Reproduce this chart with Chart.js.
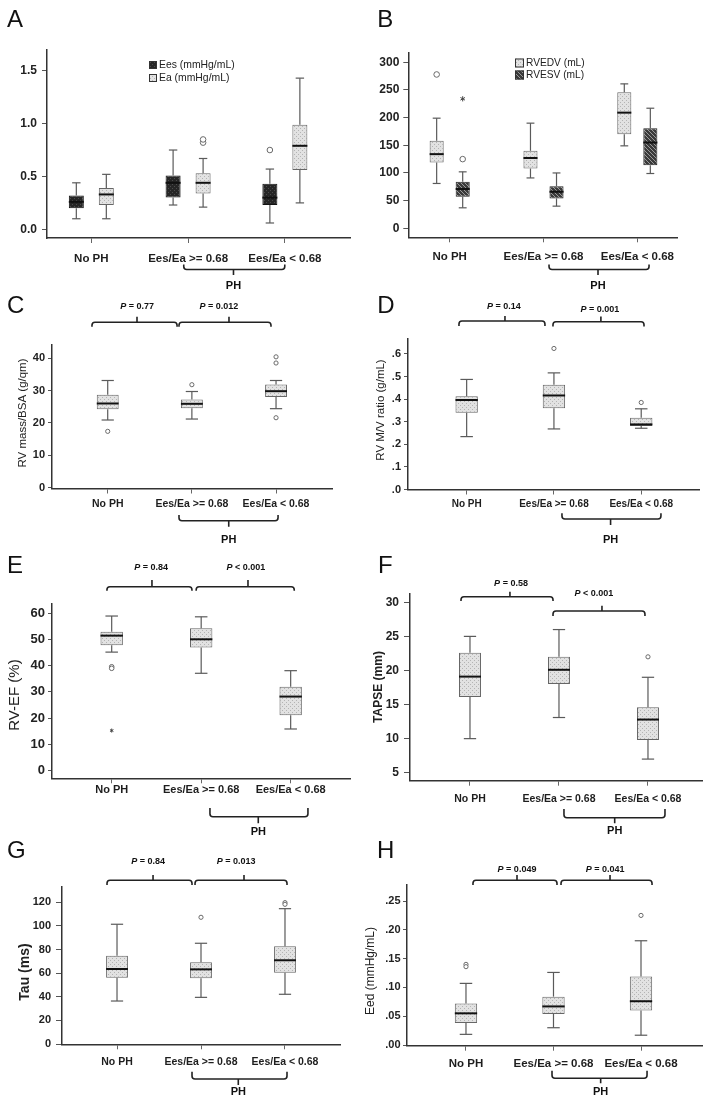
<!DOCTYPE html>
<html>
<head>
<meta charset="utf-8">
<title>RV-PA coupling box plots</title>
<script src="https://cdn.jsdelivr.net/npm/chart.js@4.4.1/dist/chart.umd.min.js"></script>
<style>
  html, body { margin: 0; padding: 0; background: #fff; }
  #page { position: relative; width: 709px; height: 1106px; overflow: hidden; }
  #page canvas { position: absolute; }
</style>
</head>
<body>
<div id="page"></div>
<script>
// ---------- data ----------
const groups = ['No PH', 'Ees/Ea >= 0.68', 'Ees/Ea < 0.68'];

// each box: [whisker low, Q1, median, Q3, whisker high], one per group
const eesBox = [[0.10, 0.20, 0.26, 0.32, 0.44], [0.23, 0.30, 0.44, 0.51, 0.75], [0.06, 0.23, 0.30, 0.43, 0.57]];
const eesOut = [[], [], [0.75]];
const eaBox = [[0.10, 0.23, 0.33, 0.39, 0.52], [0.21, 0.34, 0.44, 0.53, 0.67], [0.25, 0.56, 0.79, 0.99, 1.43]];
const eaOut = [[], [0.82, 0.85], []];

const rvedvBox = [[81, 119, 134, 158, 199], [91, 108, 127, 140, 190], [149, 170, 209, 246, 261]];
const rvedvOut = [[278], [], []];
const rvesvBox = [[37, 57, 71, 84, 102], [40, 54, 66, 76, 100], [99, 114, 155, 181, 217]];
const rvesvOut = [[125], [], []];
const rvesvExtreme = [[234], [], []];

const rvMassBox = [[20.9, 24.2, 26.0, 28.7, 33.1], [21.2, 24.5, 25.9, 27.2, 29.7], [24.4, 28.0, 29.8, 31.9, 33.1]];
const rvMassOut = [[17.4], [31.8], [40.4, 38.5, 21.6]];

const mvRatioBox = [[0.234, 0.340, 0.396, 0.413, 0.487], [0.268, 0.360, 0.416, 0.463, 0.516], [0.271, 0.281, 0.288, 0.318, 0.357]];
const mvRatioOut = [[], [0.624], [0.385]];

const rvefBox = [[45.2, 47.8, 51.5, 53.0, 59.0], [37.1, 47.0, 50.1, 54.3, 58.7], [15.8, 21.1, 28.2, 32.0, 38.1]];
const rvefOut = [[39.6, 39.0], [], []];
const rvefExtreme = [[15.2], [], []];

const tapseBox = [[10.0, 16.1, 19.1, 22.6, 25.0], [13.1, 18.0, 20.1, 22.0, 26.0], [7.0, 9.8, 12.8, 14.6, 19.0]];
const tapseOut = [[], [], [22.0]];

const tauBox = [[36.4, 56.2, 63.5, 74.8, 101.4], [39.5, 55.6, 63.2, 69.2, 85.3], [42.1, 60.4, 70.9, 82.7, 114.6]];
const tauOut = [[], [107.3], [119.7, 118.3]];

const eedBox = [[0.0185, 0.038, 0.055, 0.072, 0.107], [0.030, 0.054, 0.067, 0.084, 0.126], [0.017, 0.060, 0.076, 0.119, 0.181]];
const eedOut = [[0.140, 0.136], [], [0.225]];

// axis ticks
const aTicks = [0, 0.5, 1.0, 1.5];
const aTickLabels = ['0.0', '0.5', '1.0', '1.5'];
const bTicks = [0, 50, 100, 150, 200, 250, 300];
const cTicks = [0, 10, 20, 30, 40];
const dTicks = [0, 0.1, 0.2, 0.3, 0.4, 0.5, 0.6];
const dTickLabels = ['.0', '.1', '.2', '.3', '.4', '.5', '.6'];
const eTicks = [0, 10, 20, 30, 40, 50, 60];
const fTicks = [5, 10, 15, 20, 25, 30];
const gTicks = [0, 20, 40, 60, 80, 100, 120];
const hTicks = [0, 0.05, 0.10, 0.15, 0.20, 0.25];
const hTickLabels = ['.00', '.05', '.10', '.15', '.20', '.25'];

// ---------- styling helpers ----------
const FONT = '"Liberation Sans", Arial, Helvetica, sans-serif';
Chart.defaults.font.family = FONT;

function tile(base, dot, kind) {
    const c = document.createElement('canvas');
    c.width = 4; c.height = 4;
    const g = c.getContext('2d');
    g.fillStyle = base; g.fillRect(0, 0, 4, 4);
    g.fillStyle = dot;
    if (kind === 'hatch') {
        for (let i = 0; i < 4; i++) g.fillRect(i, i, 1, 1);
    } else {
        g.fillRect(0, 0, 1, 1); g.fillRect(2, 2, 1, 1);
    }
    return g.createPattern(c, 'repeat');
}

const fills = {
    light: tile('#e2e2e2', '#b4b4b4'),
    dark: tile('#262626', '#4c4c4c'),
    hatch: tile('#3a3a3a', '#9a9a9a', 'hatch')
};

const phBracket = (x1, x2, tick, y, yEnd, yTick, yText) => ({ x1, x2, tick, y, yEnd, yTick, yText });
const pBracket = (x1, x2, tick, tx, y, yEnd, yTick, yText, text) => ({ x1, x2, tick, tx, y, yEnd, yTick, yText, text });

// ---------- panel layout (page coordinates) ----------
const panels = [
    {
        letter: 'A', letterPos: [7, 26.7], cx: 0, cy: 0, cw: 354, ch: 300,
        area: { l: 47, t: 50, r: 350, b: 238 }, xRange: [-0.458, 2.673], yRange: [-0.082, 1.696],
        yTicks: aTicks, yTickLabels: aTickLabels, yFont: 12, tl: 5, yPad: 5, xFont: 11.5, xLabelY: 257,
        series: [
            { label: 'Ees (mmHg/mL)', box: eesBox, out: eesOut, fill: 'dark', border: '#111' },
            { label: 'Ea (mmHg/mL)', box: eaBox, out: eaOut, fill: 'light', border: '#666' }
        ],
        catPct: 0.62, barPct: 0.5, dot: 2.8,
        legend: { x: 149, y: 61, size: 8, gap: 13, font: 10.4 },
        ph: phBracket(0.955, 1.999, 1.469, 269.5, 264.5, 275, 286),
        pvals: []
    },
    {
        letter: 'B', letterPos: [377.3, 26.7], cx: 354, cy: 0, cw: 355, ch: 300,
        area: { l: 408.3, t: 53, r: 677, b: 237.3 }, xRange: [-0.441, 2.423], yRange: [-16.3, 316.8],
        yTicks: bTicks, yFont: 12, tl: 5, yPad: 4, xFont: 11.5, xLabelY: 255,
        series: [
            { label: 'RVEDV (mL)', box: rvedvBox, out: rvedvOut, fill: 'light', border: '#666' },
            { label: 'RVESV (mL)', box: rvesvBox, out: rvesvOut, star: rvesvExtreme, fill: 'hatch', border: '#222' }
        ],
        catPct: 0.555, barPct: 0.54, dot: 2.8, starSize: 2.6,
        legend: { x: 515, y: 58.5, size: 9, gap: 12, font: 10.2 },
        ph: phBracket(1.059, 2.125, 1.581, 269.5, 264.5, 275, 286),
        pvals: []
    },
    {
        letter: 'C', letterPos: [7, 313.3], cx: 0, cy: 295, cw: 354, ch: 260,
        area: { l: 52, t: 345, r: 332, b: 488.5 }, xRange: [-0.662, 2.665], yRange: [-0.25, 44.06],
        yTicks: cTicks, yFont: 11, tl: 4, yPad: 3, xFont: 10.5, xLabelY: 503,
        series: [{ label: 'RV mass/BSA', box: rvMassBox, out: rvMassOut, fill: 'light', border: '#666' }],
        catPct: 1, barPct: 0.26, dot: 2.1,
        yTitle: { text: 'RV mass/BSA (g/qm)', x: 23, y: 413, font: `11.5px ${FONT}` },
        ph: phBracket(0.847, 2.024, 1.438, 520.7, 515, 526.7, 540),
        pvals: [
            pBracket(-0.187, 0.824, 0.348, 0.35, 322.3, 326.8, 316.7, 306.7, '= 0.77'),
            pBracket(0.847, 1.94, 1.441, 1.32, 322.3, 326.8, 316.7, 306.7, '= 0.012')
        ]
    },
    {
        letter: 'D', letterPos: [377.3, 313.3], cx: 354, cy: 295, cw: 355, ch: 260,
        area: { l: 408, t: 338.3, r: 699, b: 489.5 }, xRange: [-0.672, 2.662], yRange: [0, 0.669],
        yTicks: dTicks, yTickLabels: dTickLabels, yFont: 11, tl: 4, yPad: 3, xFont: 10, xLabelY: 503,
        series: [{ label: 'RV M/V ratio', box: mvRatioBox, out: mvRatioOut, fill: 'light', border: '#666' }],
        catPct: 1, barPct: 0.256, dot: 2.1,
        yTitle: { text: 'RV M/V ratio (g/mL)', x: 380.7, y: 410, font: `11.5px ${FONT}` },
        ph: phBracket(1.092, 2.226, 1.649, 519, 513.3, 525, 540),
        pvals: [
            pBracket(-0.088, 0.897, 0.439, 0.427, 321, 326, 316, 306.7, '= 0.14'),
            pBracket(0.989, 2.032, 1.538, 1.527, 321.7, 326.5, 316.5, 309.3, '= 0.001')
        ]
    },
    {
        letter: 'E', letterPos: [7, 573.3], cx: 0, cy: 552, cw: 354, ch: 295,
        area: { l: 52, t: 604, r: 350, b: 778.3 }, xRange: [-0.667, 2.663], yRange: [-3.06, 63.6],
        yTicks: eTicks, yFont: 13, tl: 4, yPad: 3, xFont: 11, xLabelY: 788,
        series: [{ label: 'RV-EF', box: rvefBox, out: rvefOut, star: rvefExtreme, fill: 'light', border: '#666' }],
        catPct: 1, barPct: 0.25, dot: 2.3, starSize: 2,
        yTitle: { text: 'RV-EF (%)', x: 15, y: 695, font: `15px ${FONT}` },
        ph: phBracket(1.098, 2.193, 1.638, 816.7, 808, 823.3, 832),
        pvals: [
            pBracket(-0.053, 0.897, 0.45, 0.44, 586.7, 590.7, 580, 567.3, '= 0.84'),
            pBracket(0.944, 2.04, 1.523, 1.50, 586.7, 590.7, 580, 567.3, '< 0.001')
        ]
    },
    {
        letter: 'F', letterPos: [378, 573.3], cx: 354, cy: 552, cw: 355, ch: 295,
        area: { l: 410, t: 593.3, r: 702, b: 780.7 }, xRange: [-0.674, 2.607], yRange: [3.83, 31.32],
        yTicks: fTicks, yFont: 12, tl: 6, yPad: 5, xFont: 10.5, xLabelY: 798,
        series: [{ label: 'TAPSE', box: tapseBox, out: tapseOut, fill: 'light', border: '#666' }],
        catPct: 1, barPct: 0.247, dot: 2.1,
        yTitle: { text: 'TAPSE (mm)', x: 379, y: 687, font: `bold 12px ${FONT}` },
        ph: phBracket(1.056, 2.191, 1.626, 817.7, 809, 823.3, 831),
        pvals: [
            pBracket(-0.101, 0.933, 0.449, 0.461, 596.7, 601, 591.7, 583.3, '= 0.58'),
            pBracket(0.933, 1.966, 1.483, 1.393, 611, 616, 605.7, 594, '< 0.001')
        ]
    },
    {
        letter: 'G', letterPos: [7, 858.3], cx: 0, cy: 838, cw: 354, ch: 268,
        area: { l: 62, t: 886.7, r: 340, b: 1044.3 }, xRange: [-0.655, 2.655], yRange: [-0.25, 133.2],
        yTicks: gTicks, yFont: 11, tl: 6, yPad: 5, xFont: 10.5, xLabelY: 1061,
        series: [{ label: 'Tau', box: tauBox, out: tauOut, fill: 'light', border: '#666' }],
        catPct: 1, barPct: 0.26, dot: 2.1,
        yTitle: { text: 'Tau (ms)', x: 25, y: 972, font: `bold 14px ${FONT}` },
        ph: phBracket(0.893, 2.024, 1.444, 1079, 1071.7, 1085, 1092.3),
        pvals: [
            pBracket(-0.119, 0.893, 0.429, 0.37, 880.3, 885, 875, 861.7, '= 0.84'),
            pBracket(0.929, 2.024, 1.512, 1.417, 880.3, 885, 875, 861.7, '= 0.013')
        ]
    },
    {
        letter: 'H', letterPos: [377, 858.3], cx: 354, cy: 838, cw: 355, ch: 268,
        area: { l: 407, t: 885, r: 702, b: 1045.7 }, xRange: [-0.674, 2.697], yRange: [-0.0012, 0.2778],
        yTicks: hTicks, yTickLabels: hTickLabels, yFont: 11, tl: 4, yPad: 2.5, xFont: 11.5, xLabelY: 1062,
        series: [{ label: 'Eed', box: eedBox, out: eedOut, fill: 'light', border: '#666' }],
        catPct: 1, barPct: 0.255, dot: 2.1,
        yTitle: { text: 'Eed (mmHg/mL)', x: 371, y: 971, font: `12px ${FONT}` },
        ph: phBracket(0.983, 2.069, 1.539, 1078.3, 1070.7, 1083.3, 1092.3),
        pvals: [
            pBracket(0.08, 1.04, 0.583, 0.583, 880.3, 885, 875, 870, '= 0.049'),
            pBracket(1.086, 2.126, 1.646, 1.589, 880.3, 885, 875, 870, '= 0.041')
        ]
    }
];

const Y_AXIS_W = 40;
const X_AXIS_H = 34;

/* =============================
   DRAW HELPERS
============================= */
function seg(ctx, x1, y1, x2, y2) {
    ctx.beginPath(); ctx.moveTo(x1, y1); ctx.lineTo(x2, y2); ctx.stroke();
}

function star(ctx, x, y, r) {
    ctx.beginPath();
    for (let k = 0; k < 3; k++) {
        const a = Math.PI / 2 + k * Math.PI / 3;
        ctx.moveTo(x - r * Math.cos(a), y - r * Math.sin(a));
        ctx.lineTo(x + r * Math.cos(a), y + r * Math.sin(a));
    }
    ctx.stroke();
}

function bracket(ctx, xa, xb, xt, y, yEnd, yTick) {
    const r = 3, dir = Math.sign(yEnd - y);
    ctx.beginPath();
    ctx.moveTo(xa, yEnd);
    ctx.lineTo(xa, y + dir * r);
    ctx.quadraticCurveTo(xa, y, xa + r, y);
    ctx.lineTo(xb - r, y);
    ctx.quadraticCurveTo(xb, y, xb, y + dir * r);
    ctx.lineTo(xb, yEnd);
    ctx.moveTo(xt, y);
    ctx.lineTo(xt, yTick);
    ctx.stroke();
}

function pText(ctx, cx, cy, rest) {
    const italic = `italic bold 9px ${FONT}`, bold = `bold 9px ${FONT}`;
    const tail = ' ' + rest;
    ctx.font = italic; const w1 = ctx.measureText('P').width;
    ctx.font = bold; const w2 = ctx.measureText(tail).width;
    const x = cx - (w1 + w2) / 2;
    ctx.textAlign = 'left'; ctx.textBaseline = 'middle';
    ctx.font = italic; ctx.fillText('P', x, cy);
    ctx.font = bold; ctx.fillText(tail, x + w1, cy);
}

function overlay(p) {
    return {
        id: 'overlay' + p.letter,
        afterDatasetsDraw(chart) {
            const ctx = chart.ctx, ys = chart.scales.y;
            const Y = v => ys.getPixelForValue(v);
            chart.data.datasets.forEach((ds, di) => {
                chart.getDatasetMeta(di).data.forEach((bar, i) => {
                    const [lo, q1, med, q3, hi] = ds.summary[i];
                    const x = bar.x, half = bar.width / 2, cap = bar.width * 0.28;
                    ctx.save();
                    ctx.strokeStyle = '#5a5a5a'; ctx.lineWidth = 1.2;
                    seg(ctx, x, Y(q3), x, Y(hi));
                    seg(ctx, x, Y(q1), x, Y(lo));
                    seg(ctx, x - cap, Y(hi), x + cap, Y(hi));
                    seg(ctx, x - cap, Y(lo), x + cap, Y(lo));
                    ctx.strokeStyle = '#111'; ctx.lineWidth = 2;
                    seg(ctx, x - half, Y(med), x + half, Y(med));
                    ctx.strokeStyle = '#6a6a6a'; ctx.lineWidth = 1; ctx.fillStyle = '#fff';
                    ds.outliers[i].forEach(v => {
                        ctx.beginPath(); ctx.arc(x, Y(v), p.dot, 0, Math.PI * 2);
                        ctx.fill(); ctx.stroke();
                    });
                    ctx.strokeStyle = '#444';
                    ds.extremes[i].forEach(v => star(ctx, x, Y(v), p.starSize || 2.4));
                    ctx.restore();
                });
            });
        },
        afterDraw(chart) {
            const ctx = chart.ctx, xs = chart.scales.x;
            const X = v => xs.getPixelForValue(v);
            ctx.save();
            ctx.fillStyle = '#111';

            // panel letter
            ctx.font = `24px ${FONT}`; ctx.textAlign = 'left'; ctx.textBaseline = 'alphabetic';
            ctx.fillText(p.letter, p.letterPos[0] - p.cx, p.letterPos[1] - p.cy);

            // P-value brackets
            ctx.strokeStyle = '#222'; ctx.lineWidth = 1.6;
            p.pvals.forEach(b => {
                bracket(ctx, X(b.x1), X(b.x2), X(b.tick), b.y - p.cy, b.yEnd - p.cy, b.yTick - p.cy);
                pText(ctx, X(b.tx), b.yText - p.cy, b.text);
            });

            // PH bracket under the last two groups
            const ph = p.ph;
            bracket(ctx, X(ph.x1), X(ph.x2), X(ph.tick), ph.y - p.cy, ph.yEnd - p.cy, ph.yTick - p.cy);
            ctx.font = `bold 11px ${FONT}`; ctx.textAlign = 'center'; ctx.textBaseline = 'middle';
            ctx.fillText('PH', X(ph.tick), ph.yText - p.cy);

            // y title
            if (p.yTitle) {
                ctx.save();
                ctx.translate(p.yTitle.x - p.cx, p.yTitle.y - p.cy);
                ctx.rotate(-Math.PI / 2);
                ctx.font = p.yTitle.font; ctx.fillStyle = '#222';
                ctx.fillText(p.yTitle.text, 0, 0);
                ctx.restore();
            }

            // legend (A, B)
            if (p.legend) {
                const lg = p.legend;
                chart.data.datasets.forEach((ds, i) => {
                    const top = lg.y + i * lg.gap - p.cy, left = lg.x - p.cx;
                    ctx.fillStyle = ds.backgroundColor;
                    ctx.fillRect(left, top, lg.size, lg.size);
                    ctx.strokeStyle = '#333'; ctx.lineWidth = 1;
                    ctx.strokeRect(left + 0.5, top + 0.5, lg.size - 1, lg.size - 1);
                    ctx.fillStyle = '#222'; ctx.font = `${lg.font}px ${FONT}`;
                    ctx.textAlign = 'left'; ctx.textBaseline = 'middle';
                    ctx.fillText(ds.label, left + lg.size + 2, top + lg.size / 2);
                });
            }
            ctx.restore();
        }
    };
}

/* =============================
   BUILD CHARTS
============================= */
const page = document.getElementById('page');

panels.forEach(p => {
    const canvas = document.createElement('canvas');
    canvas.width = p.cw; canvas.height = p.ch;
    canvas.style.left = p.cx + 'px'; canvas.style.top = p.cy + 'px';
    canvas.style.width = p.cw + 'px'; canvas.style.height = p.ch + 'px';
    page.appendChild(canvas);

    const xPad = p.xLabelY - p.area.b - 5 - 0.45 * p.xFont;

    new Chart(canvas, {
        type: 'bar',
        data: {
            datasets: p.series.map(s => ({
                label: s.label,
                data: s.box.map((b, i) => ({ x: i, y: [b[1], b[3]] })),
                summary: s.box,
                outliers: s.out,
                extremes: s.star || [[], [], []],
                backgroundColor: fills[s.fill],
                borderColor: s.border,
                borderWidth: 1,
                borderSkipped: false,
                categoryPercentage: p.catPct,
                barPercentage: p.barPct
            }))
        },
        options: {
            responsive: false,
            animation: false,
            devicePixelRatio: 1,
            events: [],
            layout: {
                padding: {
                    left: p.area.l - p.cx - Y_AXIS_W,
                    top: p.area.t - p.cy,
                    right: p.cx + p.cw - p.area.r,
                    bottom: p.cy + p.ch - p.area.b - X_AXIS_H
                }
            },
            plugins: { legend: { display: false }, tooltip: { enabled: false } },
            scales: {
                x: {
                    type: 'linear', min: p.xRange[0], max: p.xRange[1], offset: false,
                    afterBuildTicks: s => { s.ticks = groups.map((g, i) => ({ value: i })); },
                    afterFit: s => { s.height = X_AXIS_H; },
                    grid: { offset: false, drawOnChartArea: false, drawTicks: true, tickLength: 5, color: '#666' },
                    border: { display: true, color: '#333', width: 1.5 },
                    ticks: {
                        autoSkip: false, maxRotation: 0, minRotation: 0, padding: xPad, color: '#1e1e1e',
                        font: { size: p.xFont, weight: 'bold' },
                        callback: v => groups[v]
                    }
                },
                y: {
                    min: p.yRange[0], max: p.yRange[1],
                    afterBuildTicks: s => { s.ticks = p.yTicks.map(v => ({ value: v })); },
                    afterFit: s => { s.width = Y_AXIS_W; },
                    grid: { drawOnChartArea: false, drawTicks: true, tickLength: p.tl, color: '#555' },
                    border: { display: true, color: '#333', width: 1.5 },
                    ticks: {
                        padding: p.yPad, color: '#222',
                        font: { size: p.yFont, weight: 'bold' },
                        callback: (v, i) => p.yTickLabels ? p.yTickLabels[i] : String(v)
                    }
                }
            }
        },
        plugins: [overlay(p)]
    });
});
</script>
</body>
</html>
